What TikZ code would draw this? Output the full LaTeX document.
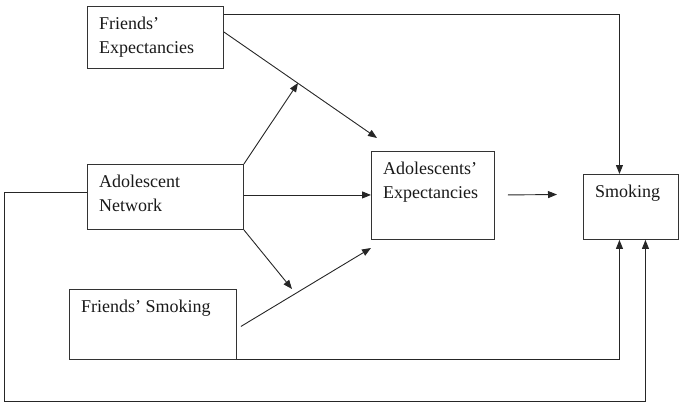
\documentclass[tikz,border=0pt]{standalone}
\usepackage{fontspec}
\setmainfont{Liberation Serif}
\usetikzlibrary{arrows.meta}
\tikzset{
  box/.style={draw, line width=0.9pt, black!80, rectangle, anchor=north west, inner sep=0pt},
  boxtext/.style={anchor=north west, align=left, inner xsep=12pt, inner ysep=10.5pt,
    font=\fontsize{18}{24}\selectfont, text=black!90},
  link/.style={line width=0.9pt, black!85, -{Triangle[length=9pt,width=7pt]}},
  plain/.style={line width=0.9pt, black!85}
}
\begin{document}
\begin{tikzpicture}[x=1pt, y=-1pt]
            \useasboundingbox (0,0) rectangle (684,409);
            \node[box, minimum width=136pt, minimum height=62pt] (fexp) at (87,6) {};
            \node[box, minimum width=156pt, minimum height=65pt] (anet) at (87,164) {};
            \node[box, minimum width=167pt, minimum height=70pt] (fsmk) at (69,289) {};
            \node[box, minimum width=123pt, minimum height=88pt] (aexp) at (371,151) {};
            \node[box, minimum width=95pt, minimum height=65pt] (smk) at (583,174) {};
            \node[boxtext] (fexpt) at (fexp.north west) {Friends'\\Expectancies};
            \node[boxtext] (anett) at (anet.north west) {Adolescent\\Network};
            \node[boxtext] (fsmkt) at (fsmk.north west) {Friends' Smoking};
            \node[boxtext] (aexpt) at (aexp.north west) {Adolescents'\\Expectancies};
            \node[boxtext] (smkt) at (smk.north west) {Smoking};
            \coordinate (tipa) at (377,138);
            \coordinate (tipb) at (298,83);
            \coordinate (tipc) at (292,289);
            \coordinate (tipd) at (371,248);
            \coordinate (tipe) at (557,194.5);
            \coordinate (lowleft) at (4,401);
            \draw[link] ([yshift=-8pt]fexp.north east) -| ([xshift=-11.5pt]smk.north);
            \draw[link] ([yshift=-26pt]fexp.north east) -- (tipa);
            \draw[link] (anet.north east) -- (tipb);
            \draw[link] ([yshift=2pt]anet.east) -- ([yshift=2pt]anet.east -| aexp.west);
            \draw[link] (anet.south east) -- (tipc);
            \draw[link] ([xshift=4pt,yshift=-2pt]fsmk.east) -- (tipd);
            \draw[link] ([xshift=13pt,yshift=0.5pt]aexp.east) -- (tipe);
            \draw[link] (fsmk.south east) -| ([xshift=-11.5pt]smk.south);
            \draw[link] ([yshift=5pt]anet.west) -| (lowleft) -| ([xshift=14.5pt]smk.south);
        \end{tikzpicture}
\end{document}
